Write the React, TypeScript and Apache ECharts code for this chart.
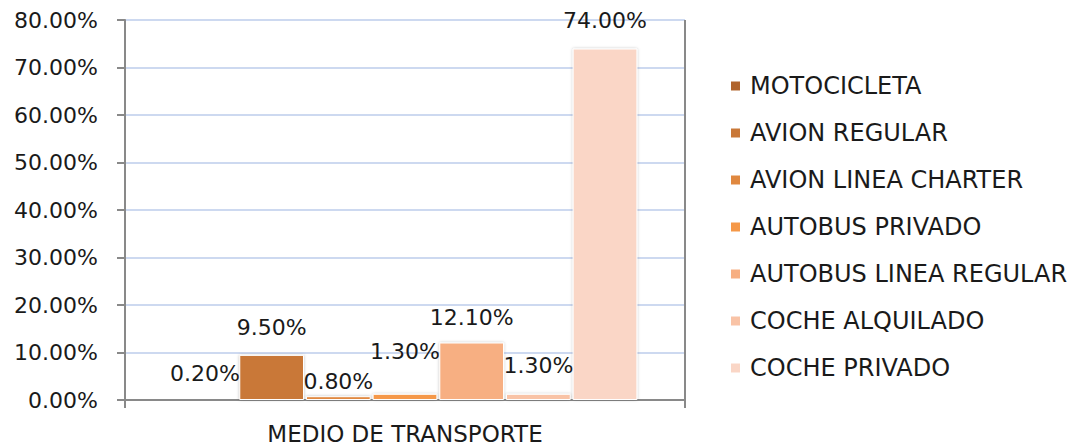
import React, { useEffect, useRef } from "react";
import * as echarts from "echarts";

const categories = ["MEDIO DE TRANSPORTE"];
const seriesNames = [
  "MOTOCICLETA",
  "AVION REGULAR",
  "AVION LINEA CHARTER",
  "AUTOBUS PRIVADO",
  "AUTOBUS LINEA REGULAR",
  "COCHE ALQUILADO",
  "COCHE PRIVADO",
];
const seriesValues = [0.2, 9.5, 0.8, 1.3, 12.1, 1.3, 74.0];
const yTicks = [0, 10, 20, 30, 40, 50, 60, 70, 80];

const colors = ["#B0642D", "#C97838", "#E0883F", "#F59848", "#F7AF82", "#F9C3A6", "#FAD6C6"];
const labelOffsetsY = [-10, -11, 1, -26, -9, -12, -12];

const FONT = "DejaVu Sans";

export default function App() {
  const ref = useRef<HTMLDivElement>(null);
  useEffect(() => {
    if (!ref.current) return;
    const chart = echarts.init(ref.current, undefined, { renderer: "svg" });
    chart.setOption({
      animation: false,
      textStyle: { fontFamily: FONT },
      grid: { left: 125, right: 393, top: 20, bottom: 46, containLabel: false },
      legend: {
        orient: "vertical",
        left: 729,
        top: 74,
        padding: 0,
        itemWidth: 11,
        itemHeight: 11,
        itemGap: 23,
        icon: "rect",
        data: seriesNames,
        textStyle: { fontFamily: FONT, fontSize: 24, color: "#1a1a1a", lineHeight: 24, padding: [0, 0, 0, 4] },
      },
      xAxis: {
        type: "category",
        data: categories,
        axisLine: { show: true, lineStyle: { color: "#898989", width: 2 } },
        axisTick: { show: true, length: 8, lineStyle: { color: "#898989", width: 2 } },
        splitLine: { show: true, lineStyle: { color: "#898989", width: 2 } },
        axisLabel: { fontFamily: FONT, fontSize: 23, lineHeight: 23, color: "#1a1a1a", margin: 22 },
      },
      yAxis: {
        type: "value",
        min: yTicks[0],
        max: yTicks[yTicks.length - 1],
        interval: yTicks[1] - yTicks[0],
        axisLine: { show: true, lineStyle: { color: "#898989", width: 2 } },
        axisTick: { show: true, length: 8, lineStyle: { color: "#898989", width: 2 } },
        splitLine: { show: true, lineStyle: { color: "#BCCDEB", width: 1.5 } },
        axisLabel: {
          fontFamily: FONT,
          fontSize: 22,
          color: "#1a1a1a",
          margin: 27,
          formatter: (v: number) => v.toFixed(2) + "%",
        },
      },
      series: seriesNames.map((name, i) => ({
        name,
        type: "bar",
        data: [seriesValues[i]],
        barGap: "3%",
        barCategoryGap: "17%",
        itemStyle: {
          color: colors[i],
          borderColor: "#ffffff",
          borderWidth: 1,
          shadowColor: "rgba(0,0,0,0.25)",
          shadowBlur: 3,
        },
        label: {
          show: true,
          position: "top",
          offset: [0, labelOffsetsY[i]],
          fontFamily: FONT,
          fontSize: 22,
          color: "#1a1a1a",
          formatter: (p: any) => Number(p.value).toFixed(2) + "%",
        },
      })),
    });
    return () => chart.dispose();
  }, []);
  return <div ref={ref} style={{ width: 1078, height: 446, position: "absolute", left: 0, top: 0 }} />;
}
